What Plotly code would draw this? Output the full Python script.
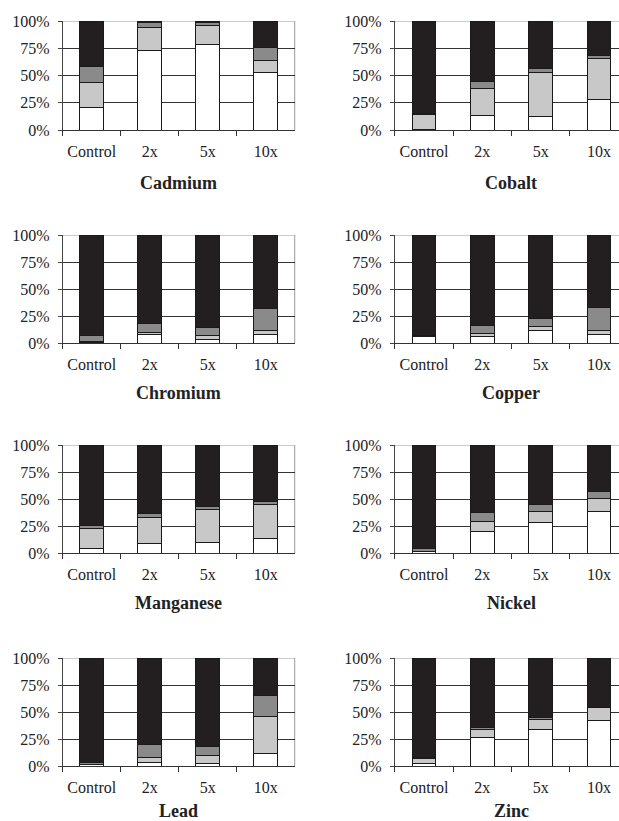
import plotly.graph_objects as go

categories = ["Control", "2x", "5x", "10x"]
metals = ["Cadmium", "Cobalt", "Chromium", "Copper", "Manganese", "Nickel", "Lead", "Zinc"]

# segment values (percent), order: Control, 2x, 5x, 10x
white = {
    "Cadmium":   [21, 73, 78, 53],
    "Cobalt":    [0.3, 13, 12, 28],
    "Chromium":  [0.5, 8, 3.5, 8],
    "Copper":    [6, 6, 11.5, 8],
    "Manganese": [4, 9, 10, 13],
    "Nickel":    [1, 19.5, 28, 38],
    "Lead":      [1, 3.5, 2.5, 12],
    "Zinc":      [2.5, 26.5, 34, 42],
}
light_gray = {
    "Cadmium":   [23, 21, 18, 11],
    "Cobalt":    [14, 25.5, 41, 38],
    "Chromium":  [1, 2, 3, 4],
    "Copper":    [0.3, 3, 4, 3.5],
    "Manganese": [18.5, 24, 30, 31.5],
    "Nickel":    [0.5, 9.5, 10, 12.5],
    "Lead":      [0.5, 4.5, 7, 33.5],
    "Zinc":      [4.5, 7.5, 9, 12],
}
mid_gray = {
    "Cadmium":   [14, 5, 3, 12],
    "Cobalt":    [0.5, 6, 3.5, 2],
    "Chromium":  [5.5, 8.5, 7.5, 19.5],
    "Copper":    [0.3, 7, 7.5, 21],
    "Manganese": [3, 3.5, 3, 3.5],
    "Nickel":    [3, 8.5, 7, 6],
    "Lead":      [1.5, 11.5, 8.5, 19.5],
    "Zinc":      [0.5, 2, 2, 0.5],
}
black = {
    "Cadmium":   [42, 1, 1, 24],
    "Cobalt":    [85.2, 55.5, 43.5, 32],
    "Chromium":  [93, 81.5, 86, 68.5],
    "Copper":    [93.4, 84, 77, 67.5],
    "Manganese": [74.5, 63.5, 57, 52],
    "Nickel":    [95.5, 62.5, 55, 43.5],
    "Lead":      [97, 80.5, 82, 35],
    "Zinc":      [92.5, 64, 55, 45.5],
}
y_ticks = [0, 25, 50, 75, 100]
y_tick_labels = ["0%", "25%", "50%", "75%", "100%"]

series = [
    (white, "#ffffff"),
    (light_gray, "#c8c8c8"),
    (mid_gray, "#8a8a8a"),
    (black, "#231f20"),
]

W, H = 619, 821
FONT = "Liberation Serif"

# pixel layout
col_x = [(62.7, 294.7, 3.5), (394.8, 619.0, 3.343)]
row_y = [(21, 130), (235, 343), (445, 553), (658, 766)]
title_y = [183, 393, 603, 811]

fig = go.Figure()
layout = {}
annotations = []
shapes = []

for i, metal in enumerate(metals):
    r, c = divmod(i, 2)
    n = i + 1
    xa = "x" if n == 1 else f"x{n}"
    ya = "y" if n == 1 else f"y{n}"
    for vals, color in series:
        fig.add_trace(go.Bar(
            x=categories, y=vals[metal], xaxis=xa, yaxis=ya,
            marker=dict(color=color, line=dict(color="#1a1a1a", width=1)),
            showlegend=False, hoverinfo="skip",
        ))
    x0, x1, rmax = col_x[c]
    top, bot = row_y[r]
    xkey = "xaxis" if n == 1 else f"xaxis{n}"
    ykey = "yaxis" if n == 1 else f"yaxis{n}"
    layout[xkey] = dict(
        domain=[x0 / W, x1 / W], anchor=ya, type="category", automargin=False,
        range=[-0.5, rmax], showline=True, linecolor="#333", linewidth=1,
        ticks="outside", tickson="boundaries", ticklen=5, tickcolor="#333",
        showgrid=False, ticklabelstandoff=7, fixedrange=True, tickangle=0,
        tickfont=dict(family=FONT, size=16, color="#222"),
    )
    layout[ykey] = dict(
        domain=[1 - bot / H, 1 - top / H], anchor=xa, range=[0, 100],
        automargin=False,
        tickvals=y_ticks, ticktext=y_tick_labels, showline=True,
        linecolor="#444", linewidth=1, ticks="outside", ticklen=4,
        tickcolor="#444", showgrid=True, gridcolor="#333", gridwidth=1,
        zeroline=False, ticklabelstandoff=5, fixedrange=True,
        tickfont=dict(family=FONT, size=16, color="#222"),
    )
    # top frame line (gray)
    shapes.append(dict(type="line", xref=f"{xa} domain", yref=ya,
                       x0=0, x1=1, y0=100, y1=100,
                       line=dict(color="#9a9a9a", width=1), layer="below"))
    if c == 0:
        shapes.append(dict(type="line", xref=f"{xa} domain", yref=f"{ya} domain",
                           x0=1, x1=1, y0=0, y1=1,
                           line=dict(color="#9a9a9a", width=1), layer="below"))
    cx = (x0 + (x0 + (x1 - x0) * 4.0 / (rmax + 0.5))) / 2
    annotations.append(dict(
        text=f"<b>{metal}</b>", xref="paper", yref="paper",
        x=cx / W, y=1 - title_y[r] / H, xanchor="center", yanchor="middle",
        showarrow=False, font=dict(family=FONT, size=18, color="#222"),
    ))

fig.update_layout(
    width=W, height=H, barmode="stack", bargap=0.59,
    margin=dict(l=0, r=0, t=0, b=0, pad=0, autoexpand=False),
    paper_bgcolor="white", plot_bgcolor="white",
    annotations=annotations, shapes=shapes, showlegend=False,
    **layout,
)

fig.write_html(
    "out.html",
    config={"displayModeBar": False},
    post_script="document.body.style.margin='0';document.body.style.overflow='hidden';",
)
